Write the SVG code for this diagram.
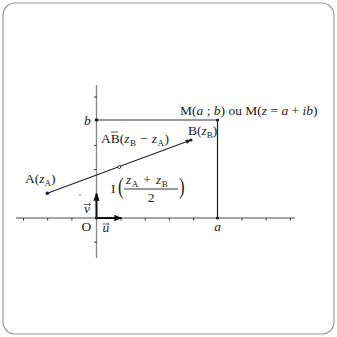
<svg xmlns="http://www.w3.org/2000/svg" width="337" height="337" viewBox="0 0 337 337">
<defs>
<style>
.t{font-family:"Liberation Serif","Times New Roman",serif;font-size:13.5px;fill:#222}
.i{font-style:italic}
.sub{font-size:9px}
.big{font-size:24px}
.axis{stroke:#888;stroke-width:1.3;fill:none}
.tick{stroke:#333;stroke-width:1}
.pt{fill:#1a1a4a}
.vec{stroke:#444;stroke-width:0.8;fill:none}
</style>
<marker id="ah" viewBox="0 0 10 10" refX="9" refY="5" markerWidth="6" markerHeight="6" orient="auto" markerUnits="userSpaceOnUse"><path d="M0,1 L10,5 L0,9 z" fill="#222"/></marker>
<marker id="ah2" viewBox="0 0 10 10" refX="9" refY="5" markerWidth="8" markerHeight="8" orient="auto" markerUnits="userSpaceOnUse"><path d="M0,1 L10,5 L0,9 z" fill="#111"/></marker>
</defs>
<rect x="3" y="3" width="331" height="331" rx="12" fill="#fff" stroke="#999" stroke-width="1.2"/>
<g id="connectors">
<line class="axis" x1="16" y1="218" x2="295" y2="218"/>
<line class="axis" x1="96.5" y1="85" x2="96.5" y2="258"/>
<g class="tick">
<line x1="23.5" y1="218" x2="23.5" y2="220.5"/><line x1="47.7" y1="218" x2="47.7" y2="220.5"/><line x1="71.9" y1="218" x2="71.9" y2="220.5"/>
<line x1="121" y1="218" x2="121" y2="220.5"/><line x1="145.2" y1="218" x2="145.2" y2="220.5"/><line x1="169.4" y1="218" x2="169.4" y2="220.5"/><line x1="193.6" y1="218" x2="193.6" y2="220.5"/><line x1="242" y1="218" x2="242" y2="220.5"/><line x1="266.2" y1="218" x2="266.2" y2="220.5"/><line x1="290.4" y1="218" x2="290.4" y2="220.5"/>
<line x1="94" y1="97" x2="96.5" y2="97"/><line x1="94" y1="145.4" x2="96.5" y2="145.4"/><line x1="94" y1="169.6" x2="96.5" y2="169.6"/><line x1="94" y1="242.2" x2="96.5" y2="242.2"/>
</g>
<line x1="96.5" y1="120" x2="217.5" y2="120" stroke="#777" stroke-width="1.3"/>
<line x1="217.5" y1="120" x2="217.5" y2="218" stroke="#222" stroke-width="1.2"/>
<line x1="96.5" y1="218" x2="121.5" y2="218" stroke="#111" stroke-width="2" marker-end="url(#ah2)"/>
<line x1="96.5" y1="218" x2="96.5" y2="193.5" stroke="#111" stroke-width="2" marker-end="url(#ah2)"/>
<line x1="47.3" y1="193.3" x2="191" y2="140" stroke="#222" stroke-width="1.1" marker-end="url(#ah)"/>
</g>
<g id="origin"><circle class="pt" cx="96.5" cy="218" r="1.6"/><text class="t" x="81.5" y="231">O</text></g>
<g id="u"><text class="t i" x="102.5" y="232">u</text><path class="vec" d="M102.5,224 H109 M107.5,222.8 L109,224 L107.5,225.2"/></g>
<g id="v"><text class="t i" x="84" y="213">v</text><path class="vec" d="M84,204.5 H90.5 M89,203.3 L90.5,204.5 L89,205.7"/><circle cx="80" cy="195" r="0.7" fill="#555"/></g>
<g id="a"><circle class="pt" cx="217.5" cy="218" r="1.6"/><text class="t i" x="217.5" y="231" text-anchor="middle">a</text></g>
<g id="b"><circle class="pt" cx="96.5" cy="120" r="1.8"/><text class="t i" x="84" y="125">b</text></g>
<g id="M"><circle class="pt" cx="217.5" cy="120" r="1.6"/><text class="t" x="180" y="114.5">M(<tspan class="i">a</tspan> ; <tspan class="i">b</tspan>) ou M(<tspan class="i">z</tspan> = <tspan class="i">a</tspan> + <tspan class="i">ib</tspan>)</text></g>
<g id="A"><circle class="pt" cx="47.3" cy="193.3" r="1.8"/><text class="t" x="25" y="183">A(<tspan class="i">z</tspan><tspan class="sub" dy="3">A</tspan><tspan dy="-3">)</tspan></text></g>
<g id="B"><circle class="pt" cx="191" cy="140" r="1.6"/><text class="t" x="188" y="135">B(<tspan class="i">z</tspan><tspan class="sub" dy="3">B</tspan><tspan dy="-3">)</tspan></text></g>
<g id="AB"><text class="t" x="101" y="143">AB(<tspan class="i">z</tspan><tspan class="sub" dy="3" dx="0.5">B</tspan><tspan dy="-3" dx="4">−</tspan><tspan class="i" dx="4">z</tspan><tspan class="sub" dy="3" dx="0.5">A</tspan><tspan dy="-3" dx="0.5">)</tspan></text><line x1="111" y1="132" x2="118" y2="132" stroke="#333" stroke-width="0.8"/></g>
<g id="I"><circle cx="119.3" cy="167" r="1.5" fill="#fff" stroke="#222" stroke-width="0.9"/>
<text class="t" x="111" y="193">I</text>
<text class="t big" x="118" y="194" transform="translate(118,194) scale(0.7,1) translate(-118,-194)">(</text>
<text class="t" x="126" y="184"><tspan class="i">z</tspan><tspan class="sub" dy="3" dx="0.5">A</tspan><tspan dy="-3" dx="5">+</tspan><tspan class="i" dx="5">z</tspan><tspan class="sub" dy="3" dx="0.5">B</tspan></text>
<line x1="124" y1="189" x2="178" y2="189" stroke="#222" stroke-width="0.9"/>
<text class="t" x="151" y="202" text-anchor="middle">2</text>
<text class="t big" x="179" y="194" transform="translate(179,194) scale(0.7,1) translate(-179,-194)">)</text>
</g>
</svg>
